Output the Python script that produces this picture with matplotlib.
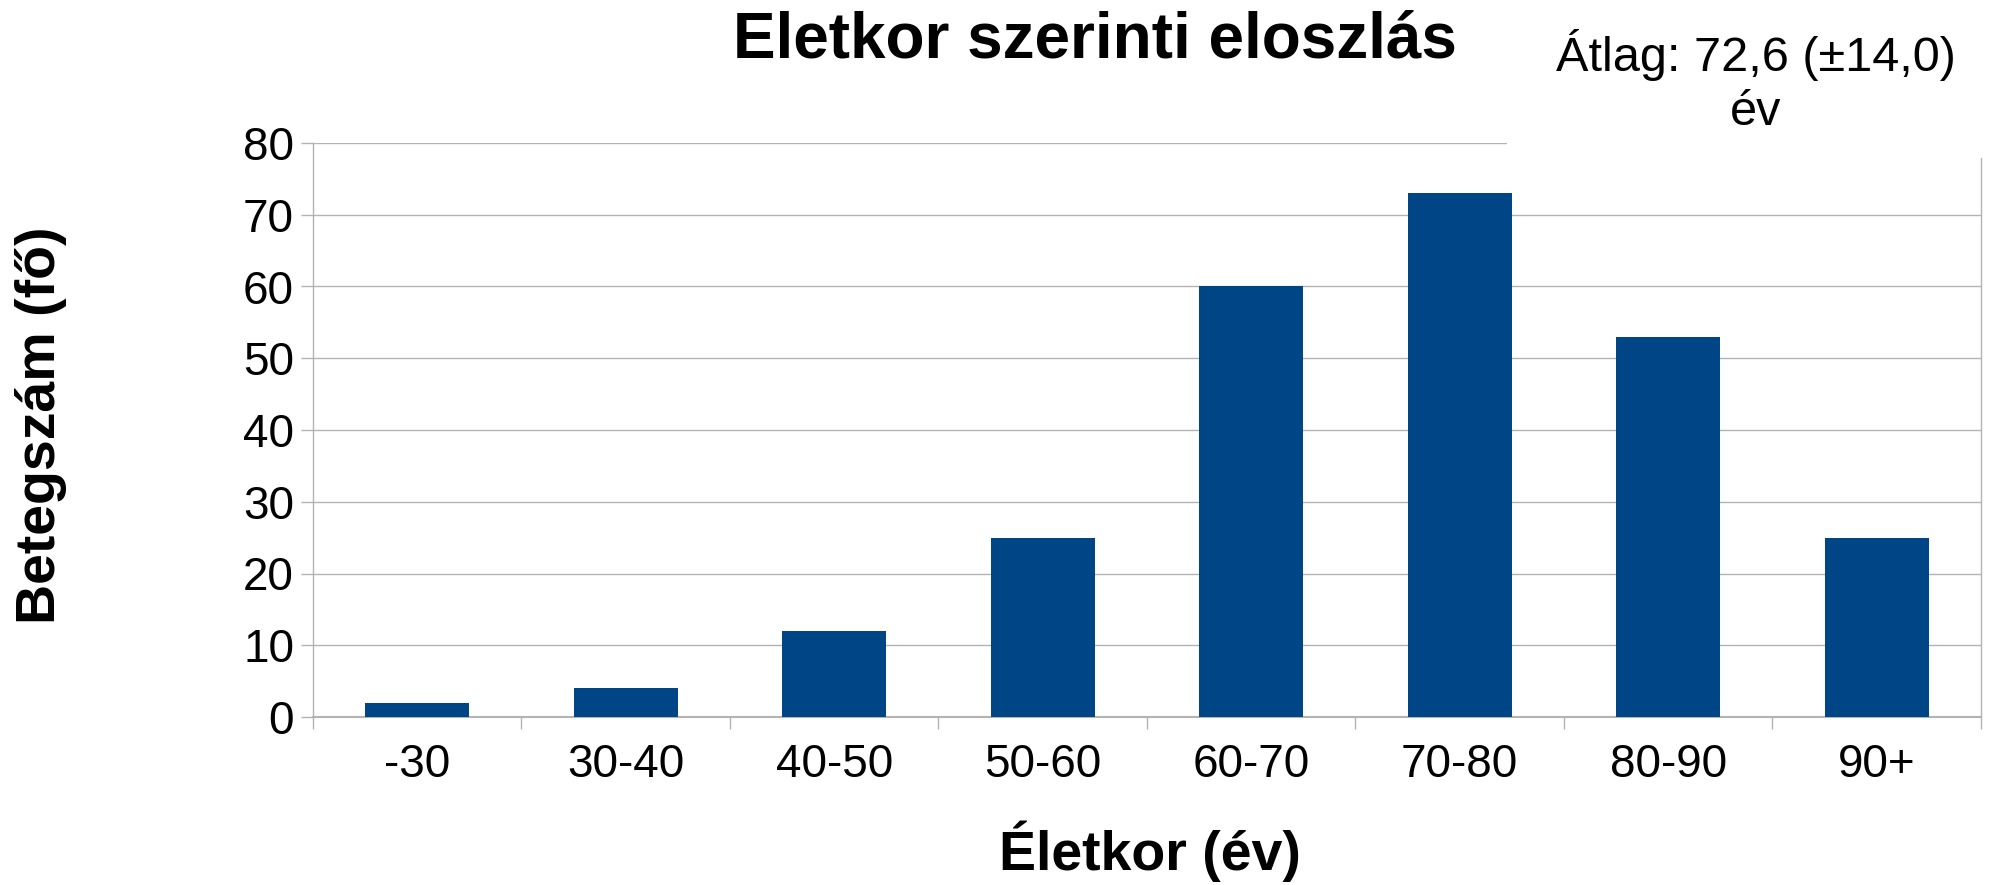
import matplotlib
matplotlib.use("Agg")
import matplotlib.pyplot as plt
from matplotlib.patches import Rectangle
import numpy as np

plt.rcParams['font.family'] = ['Liberation Sans', 'DejaVu Sans']

categories = ["-30", "30-40", "40-50", "50-60", "60-70", "70-80", "80-90", "90+"]
counts = [2, 4, 12, 25, 60, 73, 53, 25]
y_ticks = [0, 10, 20, 30, 40, 50, 60, 70, 80]

title = "Eletkor szerinti eloszlás"
xlabel = "Életkor (év)"
ylabel = "Betegszám (fő)"
note = "Átlag: 72,6 (±14,0)\név"

bar_color = "#004586"
grid_color = "#b3b3b3"

W, H = 1990, 885
fig = plt.figure(figsize=(W / 100, H / 100), dpi=100)
ax = fig.add_axes([313 / W, 1 - 717 / H, (1981 - 313) / W, (717 - 143) / H])

x = np.arange(len(categories))
ax.bar(x, counts, width=0.5, color=bar_color, zorder=3)

ax.set_xlim(-0.5, len(categories) - 0.5)
ax.set_ylim(0, 80)
ax.set_yticks(y_ticks)
ax.set_xticks(x)
ax.set_xticklabels(categories)
ax.set_xticks(np.arange(len(categories) + 1) - 0.5, minor=True)

ax.yaxis.grid(True, color=grid_color, linewidth=1.0, zorder=0)
ax.set_axisbelow(True)

ax.spines["top"].set_visible(False)
for side in ["left", "right", "bottom"]:
    ax.spines[side].set_color(grid_color)
    ax.spines[side].set_linewidth(1.0)
ax.spines["bottom"].set_linewidth(1.5)

ax.tick_params(axis="x", which="major", length=0, pad=19, labelsize=33)
ax.tick_params(axis="x", which="minor", length=8.6, width=1.0, color=grid_color)
ax.tick_params(axis="y", which="major", length=8.6, width=1.0, color=grid_color,
               pad=5, labelsize=33)

ax.set_xlabel(xlabel, fontsize=40, fontweight="bold", va="baseline")
ax.xaxis.set_label_coords(1150 / W, 1 - 870 / H, transform=fig.transFigure)
ax.set_ylabel(ylabel, fontsize=40, fontweight="bold", va="center")
ax.yaxis.set_label_coords(41 / W, 1 - 425 / H, transform=fig.transFigure)

fig.suptitle(title, x=1095 / W, y=1 - 57 / H, va="baseline", ha="center",
             fontsize=46, fontweight="bold")

# white box behind the mean annotation (covers grid line there)
fig.add_artist(Rectangle((1507 / W, 1 - 158 / H), 1 - 1507 / W, 158 / H,
                         transform=fig.transFigure, facecolor="white",
                         edgecolor="none", zorder=1))
fig.text(1756 / W, 1 - 125 / H, note, ha="center", va="baseline",
         multialignment="center", linespacing=1.25, fontsize=35, zorder=2)

fig.savefig("out.png", dpi=100, facecolor="white")
